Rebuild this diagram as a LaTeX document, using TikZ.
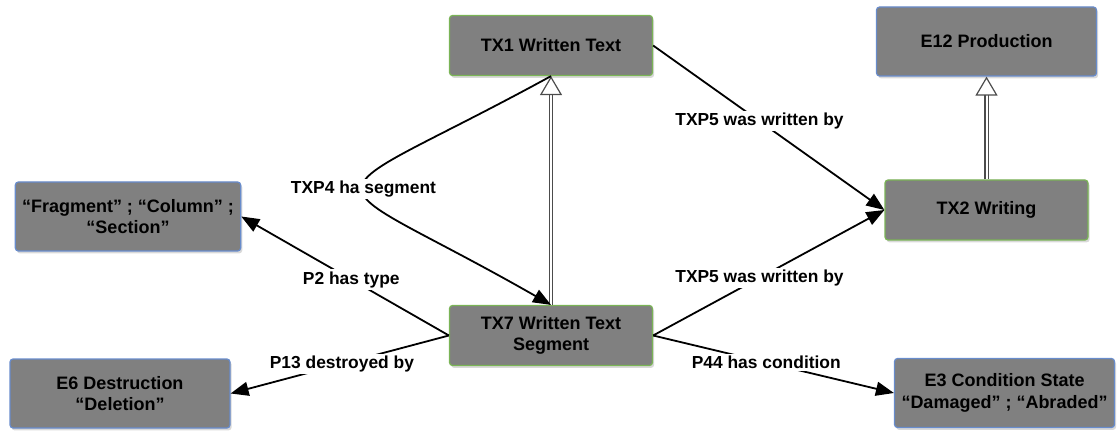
\documentclass[tikz,border=0pt]{standalone}
\usepackage{fontspec}
\setmainfont{Liberation Sans}
\usetikzlibrary{arrows.meta,shadows,positioning}
\definecolor{boxgray}{RGB}{128,128,128}
\definecolor{txgreen}{RGB}{122,180,86}
\definecolor{eblue}{RGB}{104,140,204}
\tikzstyle{box} = [draw, fill=boxgray, rectangle, rounded corners=1.5pt, line width=0.6pt,
	align=center, font=\fontsize{9}{10.8}\selectfont\bfseries,
	drop shadow={shadow xshift=0.8pt, shadow yshift=-1.2pt, opacity=0.3}]
\tikzstyle{tx} = [box, draw=txgreen, minimum width=101.5pt, minimum height=30pt]
\tikzstyle{ent} = [box, draw=eblue, minimum width=110pt, minimum height=34.5pt]
\tikzstyle{lbl} = [fill=white, inner sep=1pt, font=\fontsize{8.7}{10}\selectfont\bfseries]
\tikzstyle{rel} = [->, line width=0.9pt]
\tikzstyle{isa} = [draw=black!70, line width=0.55pt, double=white, double distance=1pt,
	-{Triangle[open, width=11pt, length=9.5pt, line width=0.6pt]}]

\begin{document}
\begin{tikzpicture}[node distance=145pt, >={Triangle[length=9pt,width=7pt]}]
	\useasboundingbox (0,0) rectangle (558.5pt,-216pt);

	\node [tx] (tx7) at (275.5pt,-167.75pt) {TX7 Written Text\\Segment};
	\node [tx, above of=tx7] (tx1) {TX1 Written Text};
	\node [tx, right of=tx1, xshift=72.75pt, yshift=-82.25pt] (tx2) {TX2 Writing};
	\node [ent, above of=tx2, yshift=-60.75pt] (e12) {E12 Production};
	\node [ent, left of=tx7, xshift=-66.5pt, yshift=59.5pt] (frag) {“Fragment” ; “Column” ;\\“Section”};
	\node [ent, left of=tx7, xshift=-70.5pt, yshift=-29pt] (e6) {E6 Destruction\\“Deletion”};
	\node [ent, right of=tx7, xshift=81.75pt, yshift=-28.75pt] (e3) {E3 Condition State\\“Damaged” ; “Abraded”};

	% subclass links
	\draw[isa] (tx7.north) -- (tx1.south);
	\draw[isa] (tx2.north) -- (e12.south);

	% properties
	\draw[rel] (tx1.south) .. controls (149.5pt,-107pt) and (151.5pt,-81.5pt) .. node[lbl]{TXP4 ha segment} (tx7.north);
	\draw[rel] (tx1.east) -- node[lbl, pos=0.46]{TXP5 was written by} (tx2.west);
	\draw[rel] (tx7.east) -- node[lbl, pos=0.46]{TXP5 was written by} (tx2.west);
	\draw[rel] (tx7.west) -- node[lbl, pos=0.47]{P2 has type} (frag.east);
	\draw[rel] (tx7.west) -- node[lbl, pos=0.49]{P13 destroyed by} (e6.east);
	\draw[rel] (tx7.east) -- node[lbl, pos=0.47]{P44 has condition} (e3.west);
\end{tikzpicture}
\end{document}
